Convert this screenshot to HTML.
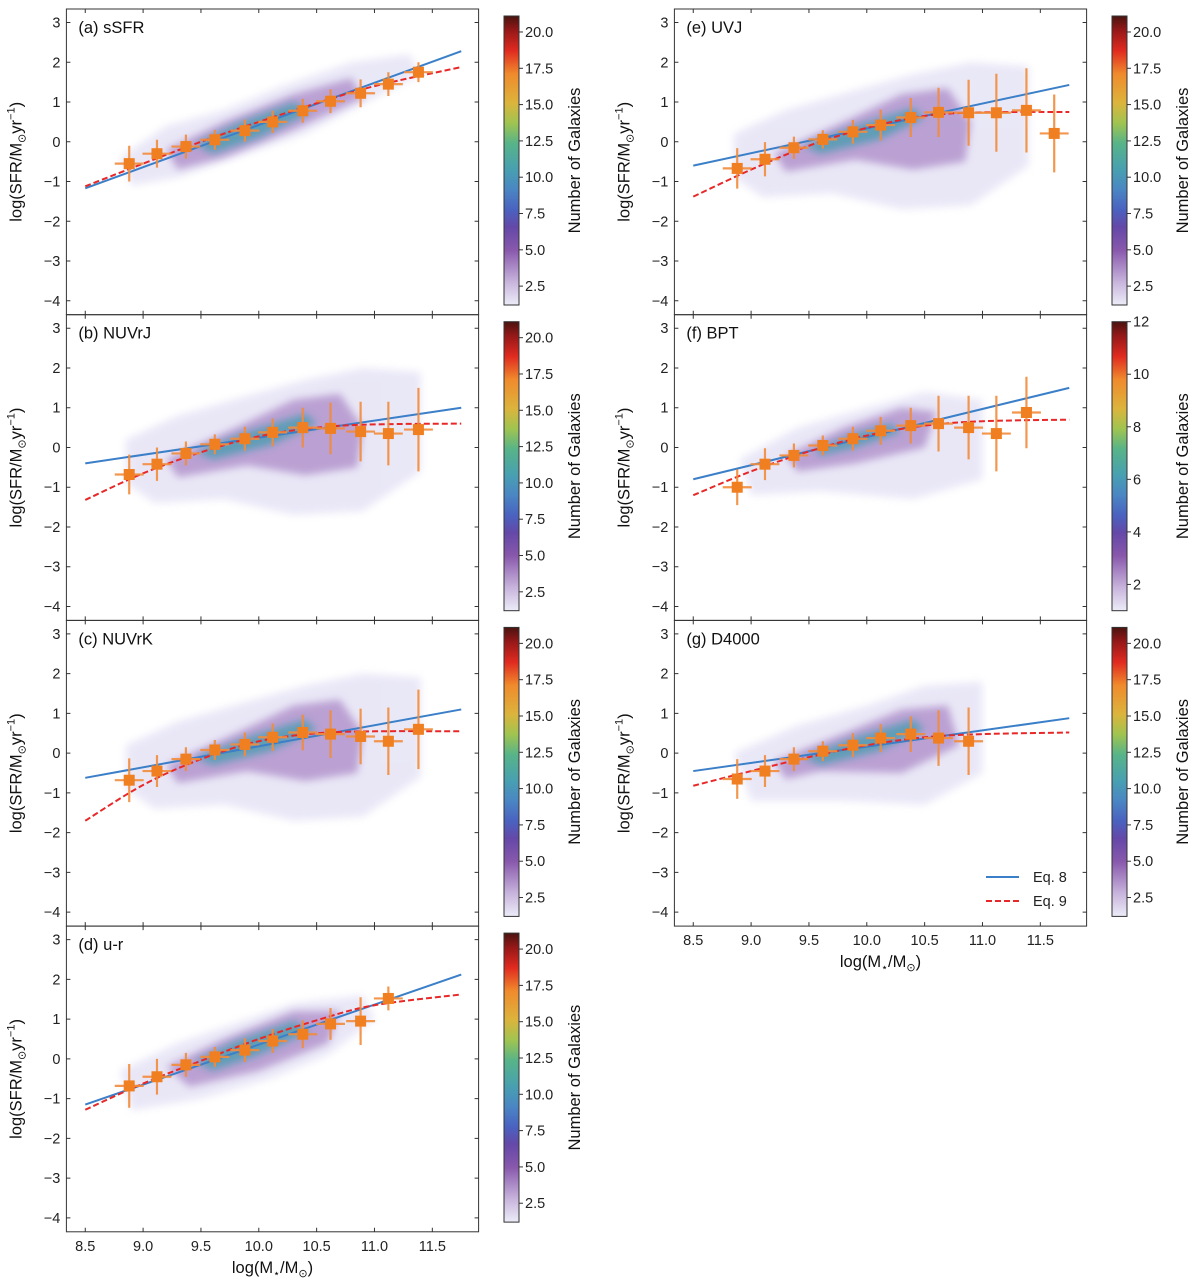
<!DOCTYPE html>
<html><head><meta charset="utf-8"><style>
html,body{margin:0;padding:0;background:#fff;}
svg{display:block;font-family:"Liberation Sans","DejaVu Sans",sans-serif;}
</style></head><body>
<svg id="fig" width="1200" height="1286" viewBox="0 0 1200 1286" xmlns="http://www.w3.org/2000/svg">
<defs>
<linearGradient id="cmap" x1="0" y1="1" x2="0" y2="0">
<stop offset="0" stop-color="#ececf8"/><stop offset="0.08" stop-color="#c8b4dc"/>
<stop offset="0.19" stop-color="#8858ac"/><stop offset="0.27" stop-color="#6448a8"/>
<stop offset="0.33" stop-color="#4a62c0"/><stop offset="0.40" stop-color="#4a86c4"/>
<stop offset="0.47" stop-color="#48a0b0"/><stop offset="0.56" stop-color="#58b488"/>
<stop offset="0.63" stop-color="#a0c450"/><stop offset="0.70" stop-color="#dcb43c"/>
<stop offset="0.80" stop-color="#f08a2c"/><stop offset="0.88" stop-color="#e02a20"/>
<stop offset="0.95" stop-color="#961818"/>
<stop offset="1" stop-color="#4a1410"/>
</linearGradient>
<filter id="blur" x="-20%" y="-20%" width="140%" height="140%"><feGaussianBlur stdDeviation="4"/></filter>
</defs>
</svg>
<script>
// ---- data ----
const binMass = [8.88, 9.12, 9.37, 9.62, 9.88, 10.12, 10.38, 10.62, 10.88, 11.12, 11.38, 11.62];
const eq9Mass = [8.5, 9.0, 9.5, 10.0, 10.5, 11.0, 11.75];
const panelLabels = ["(a) sSFR","(b) NUVrJ","(c) NUVrK","(d) u-r","(e) UVJ","(f) BPT","(g) D4000"];
const sfrA = [-0.55,-0.3,-0.12,0.05,0.28,0.5,0.78,1.02,1.22,1.45,1.75];
const errA = [0.45,0.35,0.3,0.25,0.28,0.28,0.3,0.3,0.35,0.3,0.25];
const sfrB = [-0.68,-0.42,-0.15,0.08,0.22,0.38,0.5,0.48,0.4,0.35,0.45];
const errB = [0.5,0.42,0.3,0.25,0.3,0.35,0.5,0.65,0.75,0.8,1.05];
const sfrC = [-0.68,-0.45,-0.15,0.08,0.22,0.4,0.52,0.48,0.42,0.3,0.6];
const errC = [0.55,0.4,0.3,0.25,0.3,0.35,0.45,0.6,0.7,0.85,1.0];
const sfrD = [-0.68,-0.45,-0.15,0.05,0.22,0.45,0.62,0.88,0.95,1.52];
const errD = [0.55,0.45,0.3,0.25,0.3,0.3,0.35,0.4,0.6,0.3];
const sfrE = [-0.67,-0.44,-0.15,0.06,0.25,0.42,0.61,0.74,0.73,0.73,0.79,0.21];
const errE = [0.51,0.43,0.28,0.23,0.3,0.39,0.49,0.62,0.83,0.98,1.06,0.98];
const sfrF = [-1.0,-0.42,-0.2,0.05,0.22,0.42,0.55,0.6,0.5,0.35,0.88];
const errF = [0.45,0.4,0.3,0.25,0.3,0.35,0.45,0.7,0.8,0.95,0.9];
const sfrG = [-0.65,-0.45,-0.15,0.05,0.2,0.38,0.48,0.38,0.3];
const errG = [0.5,0.4,0.3,0.25,0.3,0.35,0.45,0.7,0.85];
const eq8Start = [-1.17,-0.4,-0.62,-1.15,-0.6,-0.8,-0.45];
const eq8End = [2.28,1.0,1.1,2.12,1.43,1.5,0.88];
const eq9A = [-1.12,-0.55,0.0,0.5,0.97,1.4,1.88];
const eq9B = [-1.32,-0.65,-0.12,0.28,0.5,0.58,0.6];
const eq9C = [-1.7,-0.8,-0.15,0.3,0.5,0.55,0.55];
const eq9D = [-1.28,-0.62,-0.05,0.5,0.97,1.35,1.62];
const eq9E = [-1.38,-0.7,-0.1,0.35,0.65,0.74,0.75];
const eq9F = [-1.2,-0.6,-0.1,0.3,0.55,0.66,0.7];
const eq9G = [-0.82,-0.45,-0.1,0.2,0.4,0.48,0.52];
const cbTicks21 = [2.5,5.0,7.5,10.0,12.5,15.0,17.5,20.0];
const cbTicks12 = [2,4,6,8,10,12];
const xTicks = [8.5,9.0,9.5,10.0,10.5,11.0,11.5];
const yTicks = [-4,-3,-2,-1,0,1,2,3];

const sfrs=[sfrA,sfrB,sfrC,sfrD,sfrE,sfrF,sfrG];
const errs=[errA,errB,errC,errD,errE,errF,errG];
const eq9s=[eq9A,eq9B,eq9C,eq9D,eq9E,eq9F,eq9G];

// cloud outlines (decorative density envelope, data units)
const bandWide=[[8.85,0.2],[9.3,0.8],[9.9,1.3],[10.4,1.7],[10.9,2.0],[11.4,1.9],[11.4,-0.6],[10.9,-1.6],[10.3,-1.7],[9.7,-1.3],[9.1,-1.4],[8.85,-0.9]];
const midWide=[[9.2,-0.3],[9.8,0.5],[10.3,1.2],[10.7,1.35],[10.9,0.5],[10.85,-0.5],[10.4,-0.7],[9.9,-0.45],[9.3,-0.75]];
const coreWide=[[9.45,-0.1],[9.9,0.4],[10.4,0.85],[10.5,0.6],[10.1,0.05],[9.6,-0.3]];
const clouds=[
 {o:[[8.8,-0.4],[9.2,0.4],[9.7,0.8],[10.2,1.4],[10.8,2.0],[11.3,2.2],[11.4,1.7],[11.0,1.1],[10.4,0.2],[9.8,-0.4],[9.3,-0.9],[8.9,-1.1]],
  m:[[9.2,-0.2],[9.7,0.5],[10.3,1.2],[10.8,1.6],[10.9,1.1],[10.3,0.3],[9.7,-0.4],[9.3,-0.7]],
  c:[[9.45,-0.05],[9.8,0.45],[10.3,1.0],[10.45,0.75],[10.0,0.1],[9.6,-0.3]]},
 {o:bandWide,m:midWide,c:coreWide},
 {o:bandWide,m:midWide,c:coreWide},
 {o:[[8.8,-0.3],[9.3,0.4],[9.8,0.9],[10.3,1.4],[10.9,1.6],[11.0,1.0],[10.6,0.1],[10.1,-0.5],[9.5,-1.0],[8.9,-1.3]],
  m:[[9.2,-0.2],[9.7,0.5],[10.3,1.2],[10.7,1.2],[10.6,0.4],[10.0,-0.3],[9.4,-0.7]],
  c:[[9.45,-0.05],[9.8,0.45],[10.3,0.95],[10.45,0.7],[10.0,0.1],[9.6,-0.3]]},
 {o:bandWide,m:midWide,c:coreWide},
 {o:[[8.9,-0.3],[9.4,0.5],[10.0,1.0],[10.5,1.4],[11.0,1.2],[11.0,-0.8],[10.4,-1.3],[9.6,-1.1],[9.0,-1.2]],
  m:[[9.3,-0.2],[9.8,0.5],[10.3,1.0],[10.6,0.9],[10.5,0.0],[9.9,-0.4],[9.4,-0.6]],
  c:[[9.55,-0.05],[9.9,0.35],[10.2,0.6],[10.3,0.4],[9.9,0.0],[9.6,-0.2]]},
 {o:[[8.85,0.0],[9.4,0.7],[10.0,1.2],[10.5,1.7],[11.0,1.8],[11.0,-0.5],[10.5,-1.3],[9.8,-1.2],[9.0,-1.2]],
  m:[[9.2,-0.2],[9.8,0.5],[10.3,1.1],[10.7,1.2],[10.8,0.2],[10.3,-0.5],[9.6,-0.45],[9.3,-0.65]],
  c:[[9.45,-0.1],[9.9,0.4],[10.4,0.85],[10.5,0.6],[10.1,0.05],[9.6,-0.3]]}
];

// ---- layout ----
const NS="http://www.w3.org/2000/svg";
const svg=document.getElementById('fig');
const rowTop=[9,314.7,620.4,926.1];
const PH=305.7, XL=8.337, XR=11.90, YT=3.34, YB=-4.35;
function mk(tag,attrs,parent){const e=document.createElementNS(NS,tag);for(const k in attrs)e.setAttribute(k,attrs[k]);(parent||svg).appendChild(e);return e;}

for(let p=0;p<7;p++){
  const col=p<4?0:1, row=p<4?p:p-4;
  const L=col?674.4:66.4, R=L+412.2, T=rowTop[row], B=T+PH;
  const sx=v=>L+(v-XL)/(XR-XL)*(R-L);
  const sy=v=>T+(YT-v)/(YT-YB)*PH;
  const g=mk('g',{});
  
  
  const cp=mk('clipPath',{id:'clip'+p},g);
  mk('rect',{x:L,y:T,width:R-L,height:PH},cp);
  const pg=mk('g',{'clip-path':'url(#clip'+p+')'},g);
  // cloud
  const cl=clouds[p];
  const poly=(pts,fill,op)=>mk('polygon',{points:pts.map(q=>sx(q[0])+','+sy(q[1])).join(' '),fill:fill,opacity:op,filter:'url(#blur)'},pg);
  const c1=poly(cl.o,'#e2e0f4',0.75);
  
  
  const c2=poly(cl.m,'#9c72bc',0.6);
  
  
  const c3=poly(cl.c,'#4a9cb0',0.8);
  
  
  // eq8
  const l8=mk('line',{x1:sx(8.5),y1:sy(eq8Start[p]),x2:sx(11.75),y2:sy(eq8End[p]),stroke:'#3a7fc8','stroke-width':2},pg);
  
  
  // eq9 smooth
  const e9=eq9s[p];const P=eq9Mass.map((x,i)=>[sx(x),sy(e9[i])]);
  let d='M'+P[0][0]+','+P[0][1];
  for(let i=0;i<P.length-1;i++){const p0=P[Math.max(0,i-1)],p1=P[i],p2=P[i+1],p3=P[Math.min(P.length-1,i+2)];
    d+=' C'+(p1[0]+(p2[0]-p0[0])/6)+','+(p1[1]+(p2[1]-p0[1])/6)+' '+(p2[0]-(p3[0]-p1[0])/6)+','+(p2[1]-(p3[1]-p1[1])/6)+' '+p2[0]+','+p2[1];}
  const l9=mk('path',{d:d,fill:'none',stroke:'#e82828','stroke-width':2,'stroke-dasharray':'6,3'},pg);
  
  
  // binned points
  const ys=sfrs[p],er=errs[p];
  for(let i=0;i<ys.length;i++){
    const x=sx(binMass[i]),y=sy(ys[i]);
    const eb=mk('path',{d:'M'+sx(binMass[i]-0.125)+','+y+'H'+sx(binMass[i]+0.125)+'M'+x+','+sy(ys[i]+er[i])+'V'+sy(ys[i]-er[i]),stroke:'#f28c3c','stroke-width':2.2,opacity:0.9},pg);
    
    
    const sq=mk('rect',{x:x-5.5,y:y-5.5,width:11,height:11,fill:'#f07f22'},pg);
    
    
  }
  // frame
  mk('rect',{x:L,y:T,width:R-L,height:PH,fill:'none',stroke:'#333','stroke-width':1},g);
  // ticks
  xTicks.forEach(v=>{const x=sx(v);mk('path',{d:'M'+x+','+B+'v-4M'+x+','+T+'v4',stroke:'#333'},g);
    if(row===3||p===6){const t=mk('text',{x:x,y:B+19,'text-anchor':'middle','font-size':14.5,fill:'#222'},g);t.textContent=v.toFixed(1);
      
      }});
  yTicks.forEach(v=>{const y=sy(v);mk('path',{d:'M'+L+','+y+'h4M'+R+','+y+'h-4',stroke:'#333'},g);
    const t=mk('text',{x:L-6,y:y+5,'text-anchor':'end','font-size':14.5,fill:'#222'},g);t.textContent=(v<0?'\u2212'+(-v):v);
    
    });
  // panel label
  const lb=mk('text',{x:L+12,y:T+24,'font-size':16.5,fill:'#111'},g);lb.textContent=panelLabels[p];
  
  
  // y label
  const yl=mk('text',{transform:'translate('+(L-45)+','+(T+PH/2)+') rotate(-90)','text-anchor':'middle','font-size':16.5,fill:'#111'},g);
  yl.innerHTML='log(SFR/M<tspan font-size="11" dy="4">\u2299</tspan><tspan dy="-4">yr</tspan><tspan font-size="11" dy="-7">\u22121</tspan><tspan dy="7">)</tspan>';
  
  
  if(row===3||p===6){
    const xl=mk('text',{x:(L+R)/2,y:B+41,'text-anchor':'middle','font-size':16.5,fill:'#111'},g);
    xl.innerHTML='log(M<tspan font-size="11" dy="4">\u22c6</tspan><tspan dy="-4">/M</tspan><tspan font-size="11" dy="4">\u2299</tspan><tspan dy="-4">)</tspan>';
    
    
  }
  // colorbar
  const cx=col?1112:504, cT=T+7, cB=T+296;
  const cb=mk('rect',{x:cx,y:cT,width:15,height:cB-cT,fill:'url(#cmap)',stroke:'#333','stroke-width':1},g);
  
  
  const small=p===5, vmin=small?1:1.2, vmax=small?12:21.1, ticks=small?cbTicks12:cbTicks21;
  ticks.forEach(v=>{const y=cB-(v-vmin)/(vmax-vmin)*(cB-cT);
    mk('path',{d:'M'+(cx+15)+','+y+'h4',stroke:'#333'},g);
    const t=mk('text',{x:cx+21,y:y+5,'font-size':14.5,fill:'#222'},g);t.textContent=small?String(v):v.toFixed(1);
    
    });
  const ct=mk('text',{transform:'translate('+(cx+76)+','+((cT+cB)/2)+') rotate(-90)','text-anchor':'middle','font-size':16.5,fill:'#111'},g);
  ct.textContent='Number of Galaxies';
  
  
  if(p===6){
    const lg=mk('g',{},g);
    
    
    const a=mk('line',{x1:986,y1:877,x2:1019,y2:877,stroke:'#3a7fc8','stroke-width':2},lg);
    
    
    const ta=mk('text',{x:1033,y:882,'font-size':14.5,fill:'#222'},lg);ta.textContent='Eq. 8';
    
    
    const b=mk('line',{x1:986,y1:901,x2:1019,y2:901,stroke:'#e82828','stroke-width':2,'stroke-dasharray':'6,3'},lg);
    
    
    const tb=mk('text',{x:1033,y:906,'font-size':14.5,fill:'#222'},lg);tb.textContent='Eq. 9';
    
    
  }
}
</script>
</body></html>
